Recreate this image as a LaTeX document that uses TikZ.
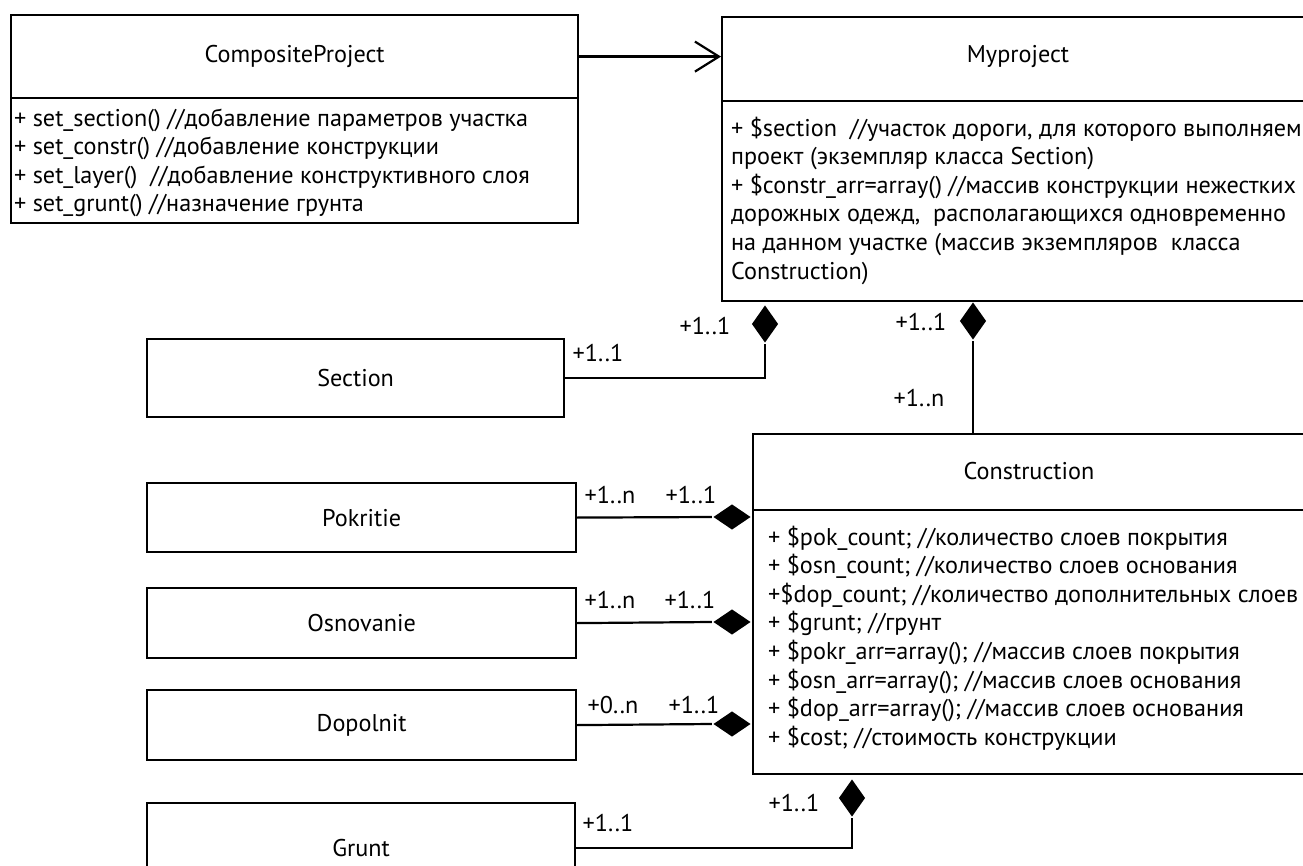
\documentclass[tikz,border=0pt]{standalone}
\usepackage{fontspec}
\setmainfont{PT Sans}
\usetikzlibrary{arrows.meta,shapes.geometric}
\begin{document}
\begin{tikzpicture}[x=1pt,y=-1pt,
  line width=2.2pt,
  every node/.style={font=\fontsize{24.2}{28.6}\selectfont},
  box/.style={draw, rectangle, anchor=north west, inner sep=0pt},
  members/.style={anchor=north west, inner sep=0pt, align=left},
  mult/.style={inner sep=0pt},
  vcomp/.style={shape=diamond, fill=black, minimum width=27pt, minimum height=38pt, inner sep=0pt},
  hcomp/.style={shape=diamond, fill=black, minimum width=38pt, minimum height=26pt, inner sep=0pt},
  link/.style={line width=2.2pt}
]
\clip (0,0) rectangle (1303,866);
\fill[white] (0,0) rectangle (1303,866);

% CompositeProject
\node[box, minimum width=567pt, minimum height=83pt] (compT) at (10,14) {CompositeProject};
\node[box, minimum width=567pt, minimum height=125pt] (compB) at (10,97) {};
\node[members] (compM) at (13,105) {\strut + set\_section() //добавление параметров участка\\
\strut + set\_constr() //добавление конструкции\\
\strut + set\_layer()~ //добавление конструктивного слоя\\
\strut + set\_grunt() //назначение грунта};

% Myproject
\node[box, minimum width=600pt, minimum height=84pt] (myT) at (721,16) {};
\node[box, minimum width=600pt, minimum height=200pt] (myB) at (721,100) {};
\node (myName) at (1018,57) {Myproject};
\node[members] (myM) at (730,115) {\strut + \$section~ //участок дороги, для которого выполняем\\
\strut проект (экземпляр класса Section)\\
\strut + \$constr\_arr=array() //массив конструкции нежестких\\
\strut дорожных одежд,~ располагающихся одновременно\\
\strut на данном участке (массив экземпляров~ класса\\
\strut Construction)};

% Construction
\node[box, minimum width=600pt, minimum height=76pt] (conT) at (752,433) {};
\node[box, minimum width=600pt, minimum height=264pt] (conB) at (752,509) {};
\node (conName) at (1029,471) {Construction};
\node[members] (conM) at (767,524) {\strut + \$pok\_count; //количество слоев покрытия\\
\strut + \$osn\_count; //количество слоев основания\\
\strut +\$dop\_count; //количество дополнительных слоев\\
\strut + \$grunt; //грунт\\
\strut + \$pokr\_arr=array(); //массив слоев покрытия\\
\strut + \$osn\_arr=array(); //массив слоев основания\\
\strut + \$dop\_arr=array(); //массив слоев основания\\
\strut + \$cost; //стоимость конструкции};

% Part classes
\node[box, minimum width=417pt, minimum height=78pt] (section) at (146,338) {Section};
\node[box, minimum width=429pt, minimum height=69pt] (pok) at (146,482) {Pokritie};
\node[box, minimum width=429pt, minimum height=70pt] (osn) at (146,587) {Osnovanie};
\node[box, minimum width=429pt, minimum height=70pt] (dop) at (146,689) {Dopolnit};
\node[box, minimum width=428pt, minimum height=90pt] (grunt) at (146,802) {Grunt};

% Composition diamonds
\node[vcomp] (dSec) at (765,324) {};
\node[vcomp] (dCon) at (973,321) {};
\node[hcomp] (dPok) at (732,517) {};
\node[hcomp] (dOsn) at (732,622) {};
\node[hcomp] (dDop) at (732,724) {};
\node[vcomp] (dGr) at (852,798) {};

% Connectors
\draw[link, -{Straight Barb[length=24pt,width=30pt]}] (compT.east) -- (compT.east -| myT.west);
\draw[link] (section.east) -| (dSec.south);
\draw[link] (dCon.south) -- (dCon.south |- conT.north);
\draw[link] (pok.east) -- (dPok.west);
\draw[link] (osn.east) -- (dOsn.west);
\draw[link] (dop.east) -- (dDop.west);
\draw[link] (grunt.east) -| (dGr.south);

% Multiplicities
\node[mult] (mSecA) at (598,353) {+1..1};
\node[mult] (mSecB) at (705,326) {+1..1};
\node[mult] (mConA) at (921,322) {+1..1};
\node[mult] (mConB) at (919,398) {+1..n};
\node[mult] (mPokA) at (610,495) {+1..n};
\node[mult] (mPokB) at (691,495) {+1..1};
\node[mult] (mOsnA) at (610,600) {+1..n};
\node[mult] (mOsnB) at (690,600) {+1..1};
\node[mult] (mDopA) at (613,705) {+0..n};
\node[mult] (mDopB) at (694,705) {+1..1};
\node[mult] (mGrA) at (608,823) {+1..1};
\node[mult] (mGrB) at (794,803) {+1..1};
\end{tikzpicture}
\end{document}
